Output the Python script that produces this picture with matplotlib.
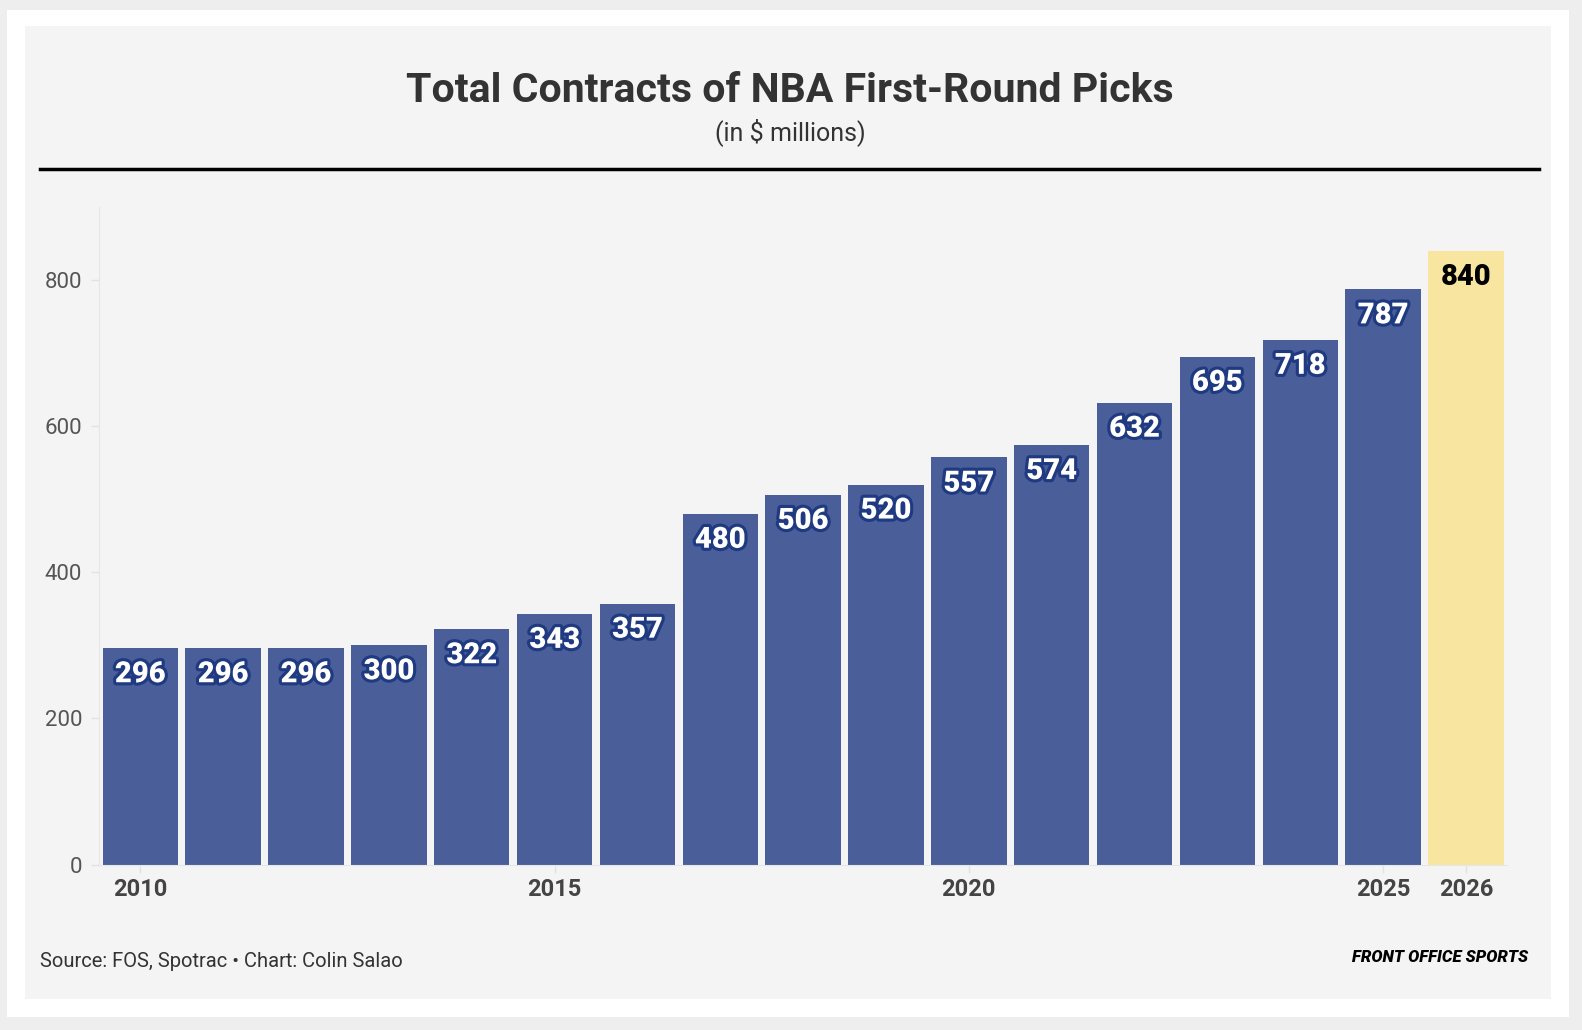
import matplotlib.pyplot as plt
import matplotlib.patheffects as pe
from matplotlib.patches import Rectangle

years = list(range(2010, 2027))
values = [296, 296, 296, 300, 322, 343, 357, 480, 506, 520, 557, 574, 632, 695, 718, 787, 840]
tick_years = [2010, 2015, 2020, 2025, 2026]
y_ticks = [0, 200, 400, 600, 800]

blue = "#4a5f9a"
yellow = "#f8e6a0"
panel = "#f4f4f4"

plt.rcParams['font.family'] = ['Roboto', 'DejaVu Sans']

fig = plt.figure(figsize=(15.82, 10.30), dpi=100)
fig.patch.set_facecolor("#eeeeee")
# layout measured on a 1568x1021 view of the reference
W, H = 1568, 1021
fig.patches.append(Rectangle((7 / W, 1 - 1008 / H), 1548 / W, 998 / H,
                             transform=fig.transFigure, facecolor="white", edgecolor="none", zorder=-2))
fig.patches.append(Rectangle((25 / W, 1 - 990 / H), 1512 / W, 964 / H,
                             transform=fig.transFigure, facecolor=panel, edgecolor="none", zorder=-1))

ax = fig.add_axes([98 / W, 1 - 857 / H, 1396 / W, 652 / H])
ax.set_facecolor(panel)

colors = [blue] * (len(years) - 1) + [yellow]
ax.bar(years, values, width=0.91, color=colors, edgecolor="none", zorder=2)

for yr, v in zip(years, values):
    if yr == 2026:
        ax.annotate(str(v), (yr, v), xytext=(0, -26), textcoords="offset pixels",
                    ha="center", va="center", fontsize=21, fontweight="heavy", color="black", zorder=3)
    else:
        t = ax.annotate(str(v), (yr, v), xytext=(0, -26), textcoords="offset pixels",
                        ha="center", va="center", fontsize=21, fontweight="heavy", color="white", zorder=3)
        t.set_path_effects([pe.withStroke(linewidth=4.5, foreground="#1f3a80")])

ax.set_xlim(2009.5, 2026.5)
ax.set_ylim(0, 900)
ax.set_xticks(tick_years)
ax.set_xticklabels([str(y) for y in tick_years], fontsize=17, fontweight="bold", color="#444444")
ax.set_yticks(y_ticks)
ax.set_yticklabels([str(y) for y in y_ticks], fontsize=16, color="#555555")
ax.tick_params(axis="both", length=6, color="#e2e2e2", width=1)
ax.tick_params(axis="x", pad=4)
ax.tick_params(axis="y", pad=6)

for s in ["top", "right"]:
    ax.spines[s].set_visible(False)
ax.spines["left"].set_color("#e6e6e6")
ax.spines["bottom"].set_color("#e6e6e6")

fig.text(783 / W, 1 - 90 / H, "Total Contracts of NBA First-Round Picks", ha="center", va="center",
         fontsize=29.5, fontweight="bold", color="#333333")
fig.text(783 / W, 1 - 131 / H, "(in $ millions)", ha="center", va="center",
         fontsize=18, color="#333333")
fig.add_artist(plt.Line2D([40 / W, 1525 / W], [1 - 168 / H, 1 - 168 / H], transform=fig.transFigure,
                          color="black", linewidth=2.5))

fig.text(40 / W, 1 - 953 / H, "Source: FOS, Spotrac \u2022 Chart: Colin Salao", ha="left", va="center",
         fontsize=14.5, color="#333333")
fig.text(1515 / W, 1 - 949 / H, "FRONT OFFICE SPORTS", ha="right", va="center",
         fontsize=12, fontweight="heavy", fontstyle="italic", color="black")

fig.savefig("out.png", dpi=100, facecolor=fig.get_facecolor())
